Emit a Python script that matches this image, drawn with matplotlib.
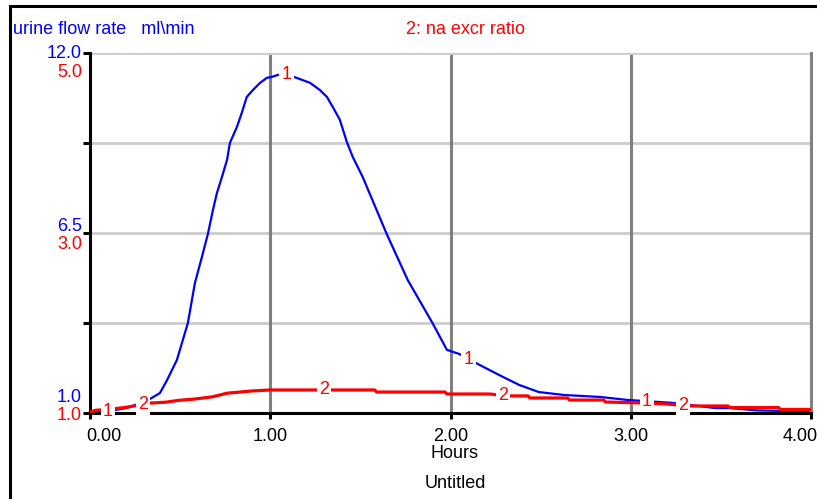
import numpy as np
import matplotlib
matplotlib.use("Agg")
from matplotlib import pyplot as plt
from matplotlib.patches import Rectangle
from matplotlib.transforms import ScaledTranslation

plt.rcParams['font.family'] = ['Liberation Sans', 'DejaVu Sans']

# urine flow rate (ml\min), series 1, left blue scale
flow_t = [0.00, 0.10, 0.20, 0.28, 0.333, 0.388, 0.427, 0.482, 0.543, 0.582, 0.621,
          0.654, 0.682, 0.704, 0.732, 0.76, 0.776, 0.815, 0.842, 0.870, 0.904,
          0.942, 0.981, 1.009, 1.042, 1.08, 1.131, 1.22, 1.275, 1.314, 1.347,
          1.386, 1.425, 1.458, 1.513, 1.646, 1.763, 1.90, 1.98, 2.05, 2.14,
          2.27, 2.38, 2.49, 2.63, 2.83, 2.98, 3.23, 3.47, 3.55, 3.70, 4.00]
flow_v = [1.00, 1.05, 1.15, 1.30, 1.43, 1.61, 2.00, 2.62, 3.75, 4.97, 5.77,
          6.47, 7.20, 7.72, 8.21, 8.73, 9.25, 9.74, 10.17, 10.66, 10.87,
          11.08, 11.24, 11.27, 11.33, 11.35, 11.27, 11.09, 10.87, 10.66, 10.35,
          9.96, 9.28, 8.82, 8.21, 6.47, 5.06, 3.75, 2.93, 2.80, 2.53,
          2.16, 1.86, 1.64, 1.55, 1.49, 1.40, 1.31, 1.15, 1.15, 1.08, 1.04]

# na excr ratio, series 2, right red scale
ratio_t = [0.00, 0.03, 0.10, 0.19, 0.25, 0.33, 0.42, 0.49, 0.58, 0.68, 0.76,
           0.90, 1.00, 1.58, 1.59, 1.97, 1.98, 2.22, 2.30, 2.43, 2.44, 2.65,
           2.66, 2.85, 2.86, 3.10, 3.20, 3.32, 3.54, 3.55, 3.82, 3.83, 4.00]
ratio_v = [1.01, 1.03, 1.04, 1.06, 1.08, 1.11, 1.12, 1.14, 1.155, 1.18, 1.22,
           1.245, 1.256, 1.256, 1.233, 1.233, 1.211, 1.211, 1.19, 1.19, 1.167, 1.167,
           1.144, 1.144, 1.122, 1.11, 1.10, 1.078, 1.078, 1.06, 1.06, 1.04, 1.04]

x_ticks = [0, 1, 2, 3, 4]
x_tick_labels = ['0.00', '1.00', '2.00', '3.00', '4.00']
flow_ticks = [1.0, 6.5, 12.0]
ratio_ticks = [1.0, 3.0, 5.0]
flow_label_t = [0.10, 1.09, 2.10, 3.09]
ratio_label_t = [0.295, 1.30, 2.29, 3.29]

W, H = 817, 499
FS = 13
fig = plt.figure(figsize=(W / 100, H / 100), dpi=100)
ax = fig.add_axes([90 / W, 1 - 413 / H, (811 - 90) / W, (413 - 53) / H])
ax2 = ax.twinx()

ax.set_xlim(0, 4)
ax.set_ylim(1, 12)
ax2.set_ylim(1, 5)

ax.plot(flow_t, flow_v, color='#0000ff', lw=1.6)
ax2.plot(ratio_t, ratio_v, color='#ff0000', lw=2.3)

# grid lines
for gy in np.linspace(1, 12, 5)[1:]:
    ax.axhline(gy, color='#cccccc', lw=2.0, zorder=0.5)
for gx in x_ticks[1:]:
    ax.axvline(gx, ymax=0.992, color='#808080', lw=2.2, zorder=0.6)

# spines and ticks
ax.spines['top'].set_visible(False)
ax.spines['right'].set_color('#808080')
ax.spines['right'].set_linewidth(2.2)
ax.spines['left'].set_linewidth(2.2)
ax.spines['bottom'].set_linewidth(2.2)
for s in ax2.spines.values():
    s.set_visible(False)
ax2.set_yticks([])

ax.set_yticks(np.linspace(1, 12, 5))
ax.set_yticklabels([])
ax.tick_params(axis='y', length=5, width=2.2, color='black', right=False)
ax.set_xticks(x_ticks)
ax.set_xticklabels(x_tick_labels, fontsize=FS)
ax.tick_params(axis='x', length=4, width=2.2, pad=7)
labels = ax.get_xticklabels()
labels[0].set_horizontalalignment('left')
labels[0].set_transform(labels[0].get_transform() + ScaledTranslation(-4 / 100, 0, fig.dpi_scale_trans))
labels[-1].set_horizontalalignment('right')
labels[-1].set_transform(labels[-1].get_transform() + ScaledTranslation(7 / 100, 0, fig.dpi_scale_trans))

# y tick labels, blue above red
flow_offsets = [15, 7, 0]
ratio_offsets = [-2, -11, -19]
for v, dy in zip(flow_ticks, flow_offsets):
    ax.annotate(f'{v:.1f}', xy=(0, v), xycoords=('axes fraction', 'data'),
                xytext=(-8, dy), textcoords='offset pixels', ha='right', va='center',
                color='#0000ff', fontsize=FS, annotation_clip=False)
for v, dy in zip(ratio_ticks, ratio_offsets):
    ax2.annotate(f'{v:.1f}', xy=(0, v), xycoords=('axes fraction', 'data'),
                 xytext=(-8, dy), textcoords='offset pixels', ha='right', va='center',
                 color='#ff0000', fontsize=FS, annotation_clip=False)

# curve number labels
box = dict(facecolor='white', edgecolor='none', pad=1.5)
for t in flow_label_t:
    ax2.text(t, np.interp(t, flow_t, flow_v), '1', transform=ax.transData,
             ha='center', va='center', color='#ff0000', fontsize=FS, bbox=box, zorder=5)
for t in ratio_label_t:
    ax2.text(t, np.interp(t, ratio_t, ratio_v), '2', ha='center', va='center',
             color='#ff0000', fontsize=FS, bbox=box, zorder=5)

fig.text(13 / W, 1 - 30 / H, 'urine flow rate   ml\\min', color='#0000ff',
         fontsize=FS, ha='left', va='center')
fig.text(465 / W, 1 - 30 / H, '2: na excr ratio', color='#ff0000',
         fontsize=FS, ha='center', va='center')
fig.text(454 / W, 1 - 454 / H, 'Hours', fontsize=FS, ha='center', va='center')
fig.text(455 / W, 1 - 484 / H, 'Untitled', fontsize=FS, ha='center', va='center')

fig.add_artist(Rectangle((10 / W, -0.1), 1.2, 1.1 - 6 / H, transform=fig.transFigure,
                         fill=False, edgecolor='black', lw=2.2))

fig.savefig('out.png', dpi=100)
